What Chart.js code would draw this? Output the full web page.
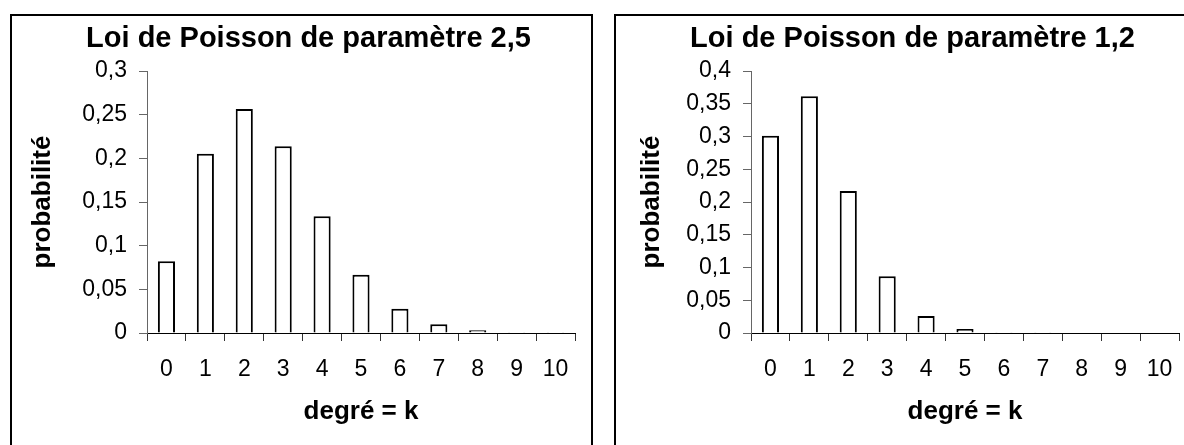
<!DOCTYPE html>
<html lang="fr">
<head>
<meta charset="utf-8">
<script src="https://cdn.jsdelivr.net/npm/chart.js@4.4.1/dist/chart.umd.min.js"></script>
<style>
  html, body { margin: 0; padding: 0; background: #fff; width: 1184px; height: 445px; overflow: hidden; }
  .box { position: absolute; top: 14px; width: 583px; height: 470px; border: 2px solid #000; box-sizing: border-box; }
  #box-left  { left: 10px; }
  #box-right { left: 614px; }
  canvas { display: block; }
</style>
</head>
<body>
<div class="box" id="box-left"><canvas id="chart-left" width="579" height="429"></canvas></div>
<div class="box" id="box-right"><canvas id="chart-right" width="579" height="429"></canvas></div>
<script>
// degrees k shown on the x axis
const categories = ['0', '1', '2', '3', '4', '5', '6', '7', '8', '9', '10'];

// probabilities
const probsLambda25 = [0.0821, 0.2052, 0.2565, 0.2138, 0.1336, 0.0668, 0.0278, 0.0099, 0.0031, 0.0009, 0.0002];
const probsLambda12 = [0.3012, 0.3614, 0.2169, 0.0867, 0.0260, 0.0062, 0.0012, 0.0002, 0, 0, 0];

const titleLeft  = 'Loi de Poisson de paramètre 2,5';
const titleRight = 'Loi de Poisson de paramètre 1,2';
const yTitle = 'probabilité';
const xTitle = 'degré = k';

const yMaxLeft  = 0.3;
const yMaxRight = 0.4;
const yStep     = 0.05;

Chart.defaults.font.family = '"Liberation Sans", Arial, sans-serif';
Chart.defaults.color = '#000';

function frenchNumber(v) {
    return (Math.round(v * 100) / 100).toString().replace('.', ',');
}

function makeChart(canvasId, title, values, yMax, yTitleShift) {
    return new Chart(document.getElementById(canvasId), {
        type: 'bar',
        data: {
            labels: categories,
            datasets: [{
                data: values,
                backgroundColor: '#fff',
                borderColor: '#000',
                borderWidth: 2,
                categoryPercentage: 1,
                barPercentage: 0.44
            }]
        },
        options: {
            responsive: false,
            animation: false,
            layout: { padding: { left: 30, right: 16, top: 0, bottom: 0 } },
            plugins: {
                legend: { display: false },
                tooltip: { enabled: false },
                title: {
                    display: true,
                    text: title,
                    color: '#000',
                    font: { size: 29, weight: 'bold' },
                    padding: { top: 5.6, bottom: 14.6 }
                }
            },
            scales: {
                x: {
                    grid: { offset: true, drawOnChartArea: false, drawTicks: true, tickLength: 8, color: '#333' },
                    border: { display: true, color: '#000', width: 1 },
                    ticks: { font: { size: 23 }, padding: 15, maxRotation: 0, autoSkip: false },
                    title: {
                        display: true,
                        text: xTitle,
                        font: { size: 26, weight: 'bold' },
                        // bottom-positioned titles are offset from the scale's bottom edge
                        padding: { top: 0, bottom: 18 }
                    },
                    afterFit: s => { s.height = 112; }
                },
                y: {
                    min: 0,
                    max: yMax,
                    grid: { drawOnChartArea: false, drawTicks: true, tickLength: 8, color: '#666' },
                    border: { display: true, color: '#666', width: 1 },
                    ticks: { stepSize: yStep, font: { size: 23 }, padding: 12, callback: v => frenchNumber(v) },
                    title: {
                        display: true,
                        text: yTitle,
                        font: { size: 26, weight: 'bold' },
                        padding: { top: yTitleShift, bottom: 0 }
                    },
                    afterFit: s => { s.width = 105; }
                }
            }
        }
    });
}

makeChart('chart-left', titleLeft, probsLambda25, yMaxLeft, -14.4);
makeChart('chart-right', titleRight, probsLambda12, yMaxRight, -9.4);
</script>
</body>
</html>
